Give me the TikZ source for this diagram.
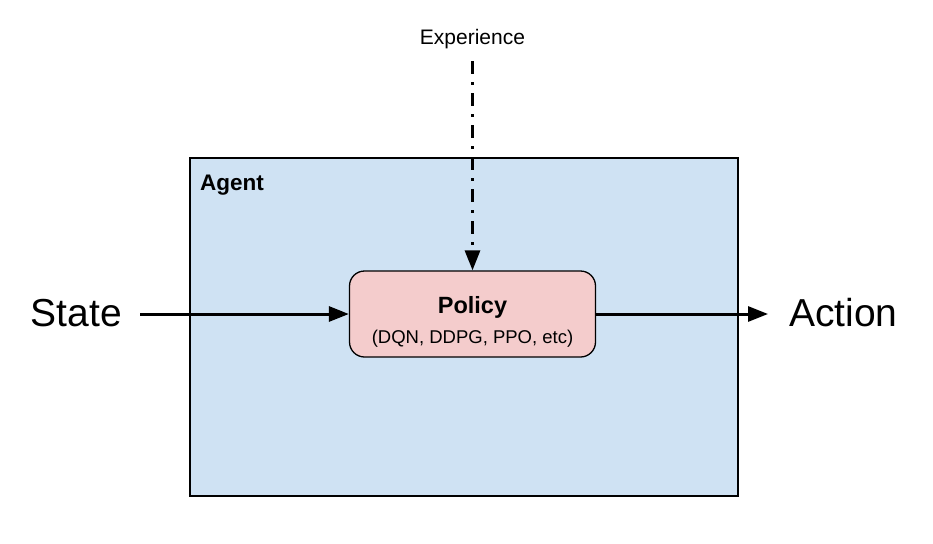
\documentclass[tikz,border=0pt]{standalone}
\usepackage{fontspec}
\setmainfont{Liberation Sans}
\usepackage{xcolor}
\usetikzlibrary{arrows.meta,positioning}
\definecolor{agentblue}{HTML}{CFE2F3}
\definecolor{policyred}{HTML}{F4CCCC}

\begin{document}
\begin{tikzpicture}[x=1pt,y=-1pt,>={Triangle[length=20pt,width=15pt]}]
    \tikzstyle{box} = [draw,line width=1.3pt,inner sep=0pt]
    \tikzstyle{flow} = [->,line width=3pt]
    \tikzstyle{big} = [inner sep=0pt,font=\fontsize{39}{45}\selectfont]
    \useasboundingbox (0,0) rectangle (933,543);
    % agent and policy
    \node[box,fill=agentblue,minimum width=548pt,minimum height=338pt] (agent) at (464,327) {};
    \node[anchor=base west,inner sep=0pt,font=\fontsize{22.5}{26}\selectfont\bfseries] (agentlbl) at (200,190) {Agent};
    \node[box,fill=policyred,rounded corners=15pt,minimum width=246pt,minimum height=86pt] (policy) at (472.5,314) {};
    \node[anchor=base,inner sep=0pt,font=\fontsize{23.5}{27}\selectfont\bfseries] (policylbl) at (472.5,313) {Policy};
    \node[anchor=base,inner sep=0pt,font=\fontsize{18.5}{22}\selectfont] (algos) at (472.5,343) {(DQN, DDPG, PPO, etc)};
    % inputs and outputs
    \node[big,anchor=base east] (state) at (122,326.5) {State};
    \node[big,anchor=base west] (action) at (789,326.5) {Action};
    \node[anchor=base,inner sep=0pt,font=\fontsize{21}{25}\selectfont] (exp) at (472.5,45) {Experience};
    \draw[flow] ([xshift=18pt]state.east |- policy.west) -- (policy.west);
    \draw[flow] (policy.east) -- ([xshift=-21pt]action.west |- policy.east);
    \draw[flow,dash pattern=on 13pt off 8pt on 3pt off 8pt] ([yshift=-11.5pt]exp.south) -- (policy.north);
\end{tikzpicture}
\end{document}
